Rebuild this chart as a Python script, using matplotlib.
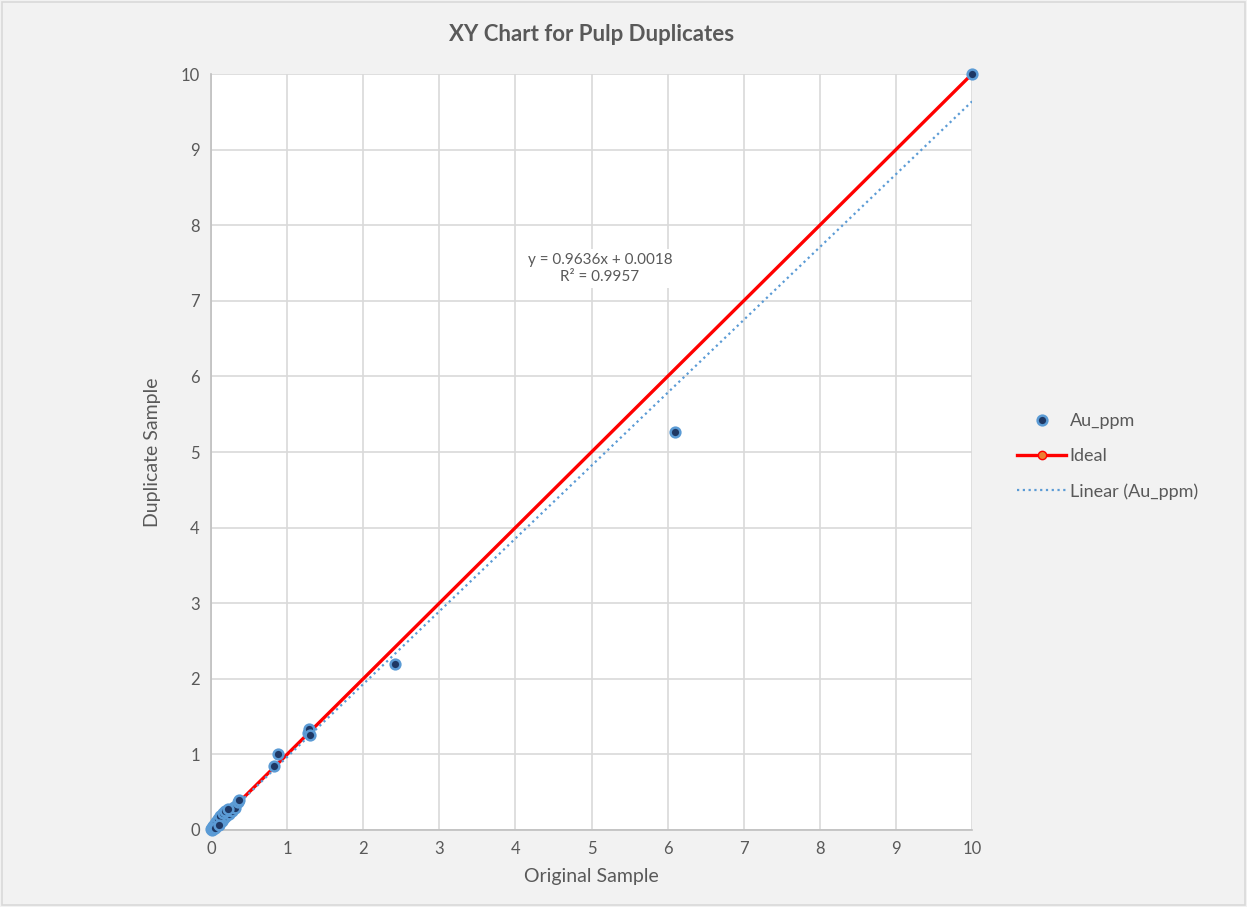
import matplotlib.pyplot as plt
import numpy as np

# Au duplicate pairs (ppm)
original = [0.005, 0.01, 0.01, 0.015, 0.02, 0.02, 0.03, 0.03, 0.04, 0.05,
            0.05, 0.06, 0.07, 0.08, 0.09, 0.10, 0.11, 0.12, 0.13, 0.14,
            0.15, 0.17, 0.18, 0.20, 0.22, 0.24, 0.25, 0.27, 0.30, 0.32,
            0.35, 0.37, 0.06, 0.09, 0.12, 0.16, 0.19, 0.23, 0.05, 0.10,
            0.83, 0.88, 1.28, 1.29, 1.30, 2.42, 6.10, 10.0]
duplicate = [0.01, 0.005, 0.02, 0.03, 0.01, 0.04, 0.05, 0.02, 0.06, 0.04,
             0.08, 0.07, 0.10, 0.06, 0.12, 0.09, 0.15, 0.13, 0.18, 0.12,
             0.20, 0.16, 0.22, 0.19, 0.24, 0.21, 0.27, 0.25, 0.31, 0.29,
             0.37, 0.40, 0.11, 0.15, 0.19, 0.23, 0.25, 0.28, 0.02, 0.06,
             0.85, 1.00, 1.28, 1.33, 1.25, 2.20, 5.27, 10.0]

ideal_x = [0, 10]
ideal_y = [0, 10]

slope, intercept, r2 = 0.9636, 0.0018, 0.9957

grey_txt = '#595959'
plt.rcParams['font.family'] = ['Lato', 'DejaVu Sans']

fig = plt.figure(figsize=(12.47, 9.07), dpi=100, facecolor='#f2f2f2')
fig.patches.append(plt.Rectangle((0.002, 0.002), 0.996, 0.996, transform=fig.transFigure,
                                 fill=False, edgecolor='#d9d9d9', linewidth=1.2))
ax = fig.add_axes([0.1692, 0.0849, 0.6103, 0.8335])
ax.set_facecolor('white')

ax.plot(ideal_x, ideal_y, color='#ff0000', linewidth=2.4, marker='o', markersize=6,
        markerfacecolor='#ed7d31', markeredgecolor='#ff0000', label='Ideal', zorder=3)

tx = np.array([0, 10])
ax.plot(tx, slope * tx + intercept, linestyle=(0, (1, 1.6)), color='#5b9bd5',
        linewidth=1.6, label='Linear (Au_ppm)', zorder=4)

ax.plot(original, duplicate, linestyle='none', marker='o', markersize=7,
        markerfacecolor='#1f3864', markeredgecolor='#5b9bd5', markeredgewidth=1.8,
        label='Au_ppm', zorder=5, clip_on=False)

ax.text(5.11, 7.43, f'y = {slope}x + {intercept}\nR² = {r2}', ha='center', va='center',
        fontsize=11, color=grey_txt, linespacing=1.3,
        bbox=dict(facecolor='white', edgecolor='none', pad=3), zorder=6)

ax.set_xlim(0, 10)
ax.set_ylim(0, 10)
ax.set_xticks(range(0, 11))
ax.set_yticks(range(0, 11))
ax.grid(True, color='#d9d9d9', linewidth=1.2)
ax.set_axisbelow(True)
for side in ['top', 'right']:
    ax.spines[side].set_visible(False)
for side in ['left', 'bottom']:
    ax.spines[side].set_color('#bfbfbf')
    ax.spines[side].set_linewidth(1.2)
ax.tick_params(length=0, labelsize=12, labelcolor=grey_txt, pad=8)

ax.set_xlabel('Original Sample', fontsize=14, color=grey_txt, labelpad=8)
ax.set_ylabel('Duplicate Sample', fontsize=14, color=grey_txt, labelpad=14)
ax.set_title('XY Chart for Pulp Duplicates', fontsize=16, fontweight='bold',
             color=grey_txt, pad=24)

handles, labels = ax.get_legend_handles_labels()
order = [2, 0, 1]
ax.legend([handles[i] for i in order], [labels[i] for i in order],
          loc='center left', bbox_to_anchor=(1.038, 0.494), frameon=False,
          fontsize=13, labelcolor=grey_txt, handlelength=2.7, handletextpad=0.2,
          labelspacing=1.05)

fig.savefig('out.png', dpi=100, facecolor=fig.get_facecolor())
